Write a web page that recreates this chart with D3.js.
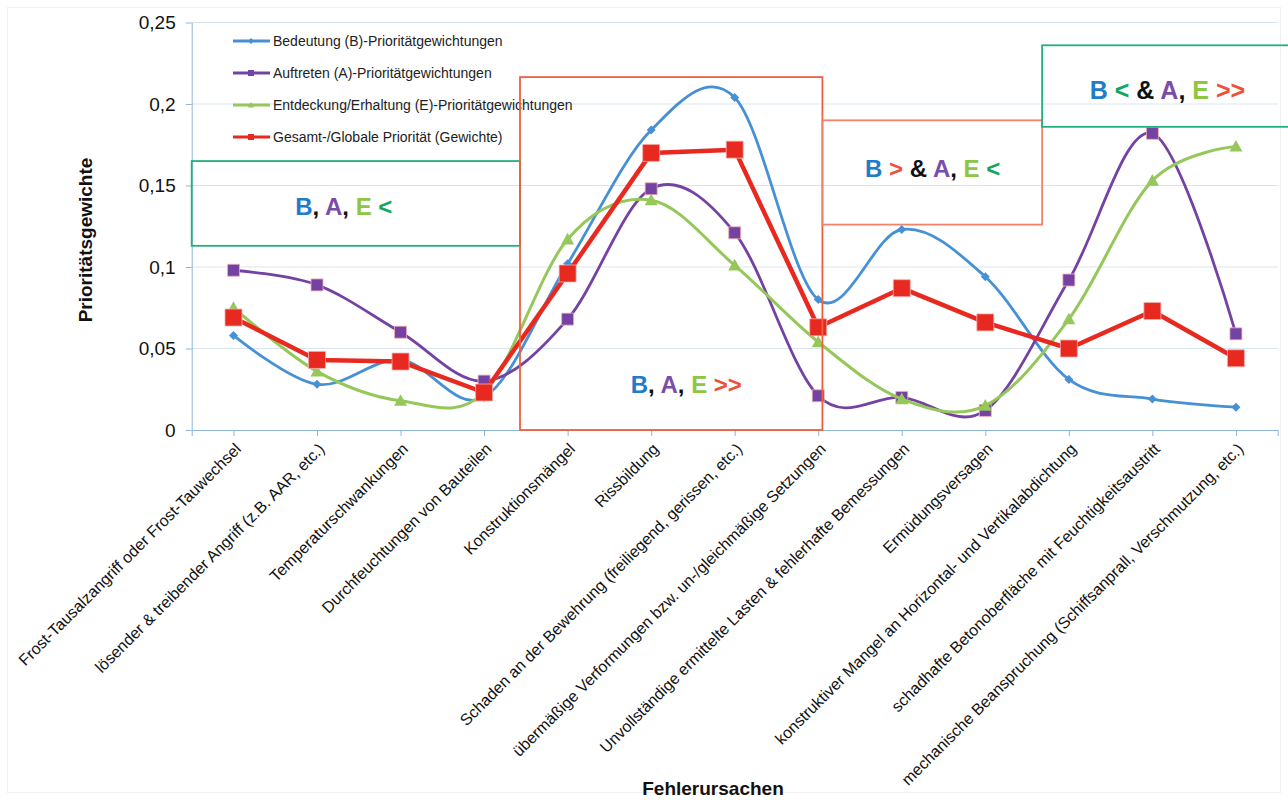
<!DOCTYPE html>
<html><head><meta charset="utf-8">
<script src="https://cdn.jsdelivr.net/npm/d3@7"></script>
<style>
body{margin:0;background:#fff;}
svg{display:block;font-family:"Liberation Sans",Arial,sans-serif;}
</style></head>
<body>
<svg id="chart" width="1288" height="800"></svg>
<script>
const categories = [
  "Frost-Tausalzangriff oder Frost-Tauwechsel",
  "lösender & treibender Angriff (z.B. AAR, etc.)",
  "Temperaturschwankungen",
  "Durchfeuchtungen von Bauteilen",
  "Konstruktionsmängel",
  "Rissbildung",
  "Schaden an der Bewehrung (freiliegend, gerissen, etc.)",
  "übermäßige Verformungen bzw. un-/gleichmäßige Setzungen",
  "Unvollständige ermittelte Lasten & fehlerhafte Bemessungen",
  "Ermüdungsversagen",
  "konstruktiver Mangel an Horizontal- und Vertikalabdichtung",
  "schadhafte Betonoberfläche mit Feuchtigkeitsaustritt",
  "mechanische Beanspruchung (Schiffsanprall, Verschmutzung, etc.)"
];
const seriesNames = [
  "Bedeutung (B)-Prioritätgewichtungen",
  "Auftreten (A)-Prioritätgewichtungen",
  "Entdeckung/Erhaltung (E)-Prioritätgewichtungen",
  "Gesamt-/Globale Priorität (Gewichte)"
];
const bedeutung = [0.058,0.028,0.043,0.020,0.102,0.184,0.204,0.080,0.123,0.094,0.031,0.019,0.014];
const auftreten = [0.098,0.089,0.060,0.030,0.068,0.148,0.121,0.021,0.020,0.012,0.092,0.182,0.059];
const entdeckung = [0.075,0.036,0.018,0.023,0.117,0.141,0.101,0.054,0.019,0.015,0.068,0.153,0.174];
const gesamt = [0.069,0.043,0.042,0.023,0.096,0.170,0.172,0.063,0.087,0.066,0.050,0.073,0.044];
const yTicks = [0,0.05,0.1,0.15,0.2,0.25];
const yTickLabels = ["0","0,05","0,1","0,15","0,2","0,25"];
const yTitle = "Prioritätsgewichte";
const xTitle = "Fehlerursachen";

// annotation boxes (category-index span, value span) and coloured text segments
const boxIdx0 = [-0.5, 3.43, 7.05, 9.68];
const boxIdx1 = [3.43, 7.05, 9.68, 12.65];
const boxV0 = [0.113, 0, 0.126, 0.186];
const boxV1 = [0.165, 0.2165, 0.190, 0.236];
const boxTextIdx = [1.32, 5.42, 8.37, 11.18];
const boxTextV = [0.132, 0.0225, 0.1555, 0.2031];
const boxTexts = [
  [["B","b"],[", ","k"],["A","a"],[", ","k"],["E","e"],[" <","lt"]],
  [["B","b"],[", ","k"],["A","a"],[", ","k"],["E","e"],[" >>","gt"]],
  [["B","b"],[" >","gt"],[" & ","k"],["A","a"],[", ","k"],["E","e"],[" <","lt"]],
  [["B","b"],[" <","lt"],[" & ","k"],["A","a"],[", ","k"],["E","e"],[" >>","gt"]]
];

const colors = {blue:"#4690D6", purple:"#7442A2", green:"#95C75A", red:"#E8291F"};
const txtCol = {b:"#1F7CC9", a:"#7A4DAA", e:"#8DC63F", lt:"#10A860", gt:"#F0503A", k:"#111"};
const boxStroke = ["#22B07C","#F0603C","#F0846A","#22B07C"];

const svg = d3.select("#chart");
const x = d3.scalePoint().domain(categories).range([191.7,1277.7]).padding(0.5);
const y = d3.scaleLinear().domain([0,0.25]).range([430,22.5]);
const step = x.step();
const xi = i => x(categories[0]) + i*step;

// faint outer border
svg.append("rect").attr("x",7.5).attr("y",7.5).attr("width",1273).attr("height",785)
  .attr("fill","none").attr("stroke","#f3eeee");

// gridlines
svg.append("g").selectAll("line").data(yTicks.slice(1)).join("line")
  .attr("x1",191.7).attr("x2",1277.7).attr("y1",d=>y(d)).attr("y2",d=>y(d))
  .attr("stroke","#d8e5f1").attr("stroke-width",1);

// axes
const axisCol = "#8DB6DA";
const gy = svg.append("g").attr("transform","translate(191.7,0)")
  .call(d3.axisLeft(y).tickValues(yTicks).tickFormat((d,i)=>yTickLabels[i]).tickSize(6).tickSizeOuter(0).tickPadding(10));
gy.select(".domain").attr("stroke",axisCol);
gy.selectAll(".tick line").attr("stroke",axisCol);
gy.selectAll(".tick text").attr("font-size",19).attr("fill","#111").attr("font-family","Liberation Sans, Arial, sans-serif");

const gx = svg.append("g").attr("transform","translate(0,430)")
  .call(d3.axisBottom(x).tickSize(6).tickSizeOuter(6));
gx.select(".domain").attr("stroke",axisCol);
gx.selectAll(".tick line").attr("stroke",axisCol);
gx.selectAll(".tick text")
  .attr("font-size",16).attr("fill","#111").attr("font-family","Liberation Sans, Arial, sans-serif")
  .attr("x",0).attr("y",0).attr("dy",0)
  .attr("text-anchor","end")
  .attr("transform","translate(8,20) rotate(-45)");

// titles
svg.append("text").attr("transform","translate(92,240) rotate(-90)")
  .attr("text-anchor","middle").attr("font-weight","bold").attr("font-size",19).attr("fill","#111").text(yTitle);
svg.append("text").attr("x",713).attr("y",795)
  .attr("text-anchor","middle").attr("font-weight","bold").attr("font-size",19).attr("fill","#111").text(xTitle);

// series
const smooth = d3.line().x((d,i)=>x(categories[i])).y(d=>y(d)).curve(d3.curveCardinal.tension(0));
const straight = d3.line().x((d,i)=>x(categories[i])).y(d=>y(d));
const series = [
  {vals:bedeutung, col:colors.blue, gen:smooth, w:2.8, marker:"diamond", size:9},
  {vals:auftreten, col:colors.purple, gen:smooth, w:2.8, marker:"square", size:12},
  {vals:entdeckung, col:colors.green, gen:smooth, w:3, marker:"triangle", size:13},
  {vals:gesamt, col:colors.red, gen:straight, w:4.5, marker:"square", size:17}
];
function markerPath(type, s){
  const h=s/2;
  if(type==="diamond") return `M0,${-h}L${h},0L0,${h}L${-h},0Z`;
  if(type==="square") return `M${-h},${-h}H${h}V${h}H${-h}Z`;
  return `M0,${-h}L${h},${h*0.8}L${-h},${h*0.8}Z`;
}
series.forEach(s=>{
  svg.append("path").attr("d",s.gen(s.vals)).attr("fill","none")
    .attr("stroke",s.col).attr("stroke-width",s.w).attr("stroke-linejoin","round");
  svg.append("g").selectAll("path").data(s.vals).join("path")
    .attr("transform",(d,i)=>`translate(${x(categories[i])},${y(d)})`)
    .attr("d",markerPath(s.marker,s.size)).attr("fill",s.col)
    .attr("stroke",s.marker==="square"? "#f6b0b0":"none").attr("stroke-width",0.8);
});

// legend
const lg = svg.append("g");
const legY = [41,73,105,137];
series.forEach((s,i)=>{
  lg.append("line").attr("x1",233).attr("x2",270).attr("y1",legY[i]).attr("y2",legY[i])
    .attr("stroke",s.col).attr("stroke-width",3);
  lg.append("path").attr("transform",`translate(251,${legY[i]})`).attr("d",markerPath(s.marker,6)).attr("fill",s.col);
  lg.append("text").attr("x",273).attr("y",legY[i]).attr("dy","0.35em")
    .attr("font-size",14).attr("fill","#222").text(seriesNames[i]);
});

// annotation boxes
boxTexts.forEach((segs,k)=>{
  const x0 = Math.max(191.7, xi(boxIdx0[k])), x1 = xi(boxIdx1[k]);
  svg.append("rect").attr("x",x0).attr("y",y(boxV1[k])).attr("width",x1-x0)
    .attr("height",y(boxV0[k])-y(boxV1[k])).attr("fill","none")
    .attr("stroke",boxStroke[k]).attr("stroke-width",1.8);
  const t = svg.append("text").attr("x",xi(boxTextIdx[k])).attr("y",y(boxTextV[k]))
    .attr("text-anchor","middle").attr("font-weight","bold").attr("font-size",k===3?25:24)
    .attr("xml:space","preserve").style("white-space","pre");
  segs.forEach(sg=>t.append("tspan").attr("fill",txtCol[sg[1]]).text(sg[0]));
});
</script>
</body></html>
